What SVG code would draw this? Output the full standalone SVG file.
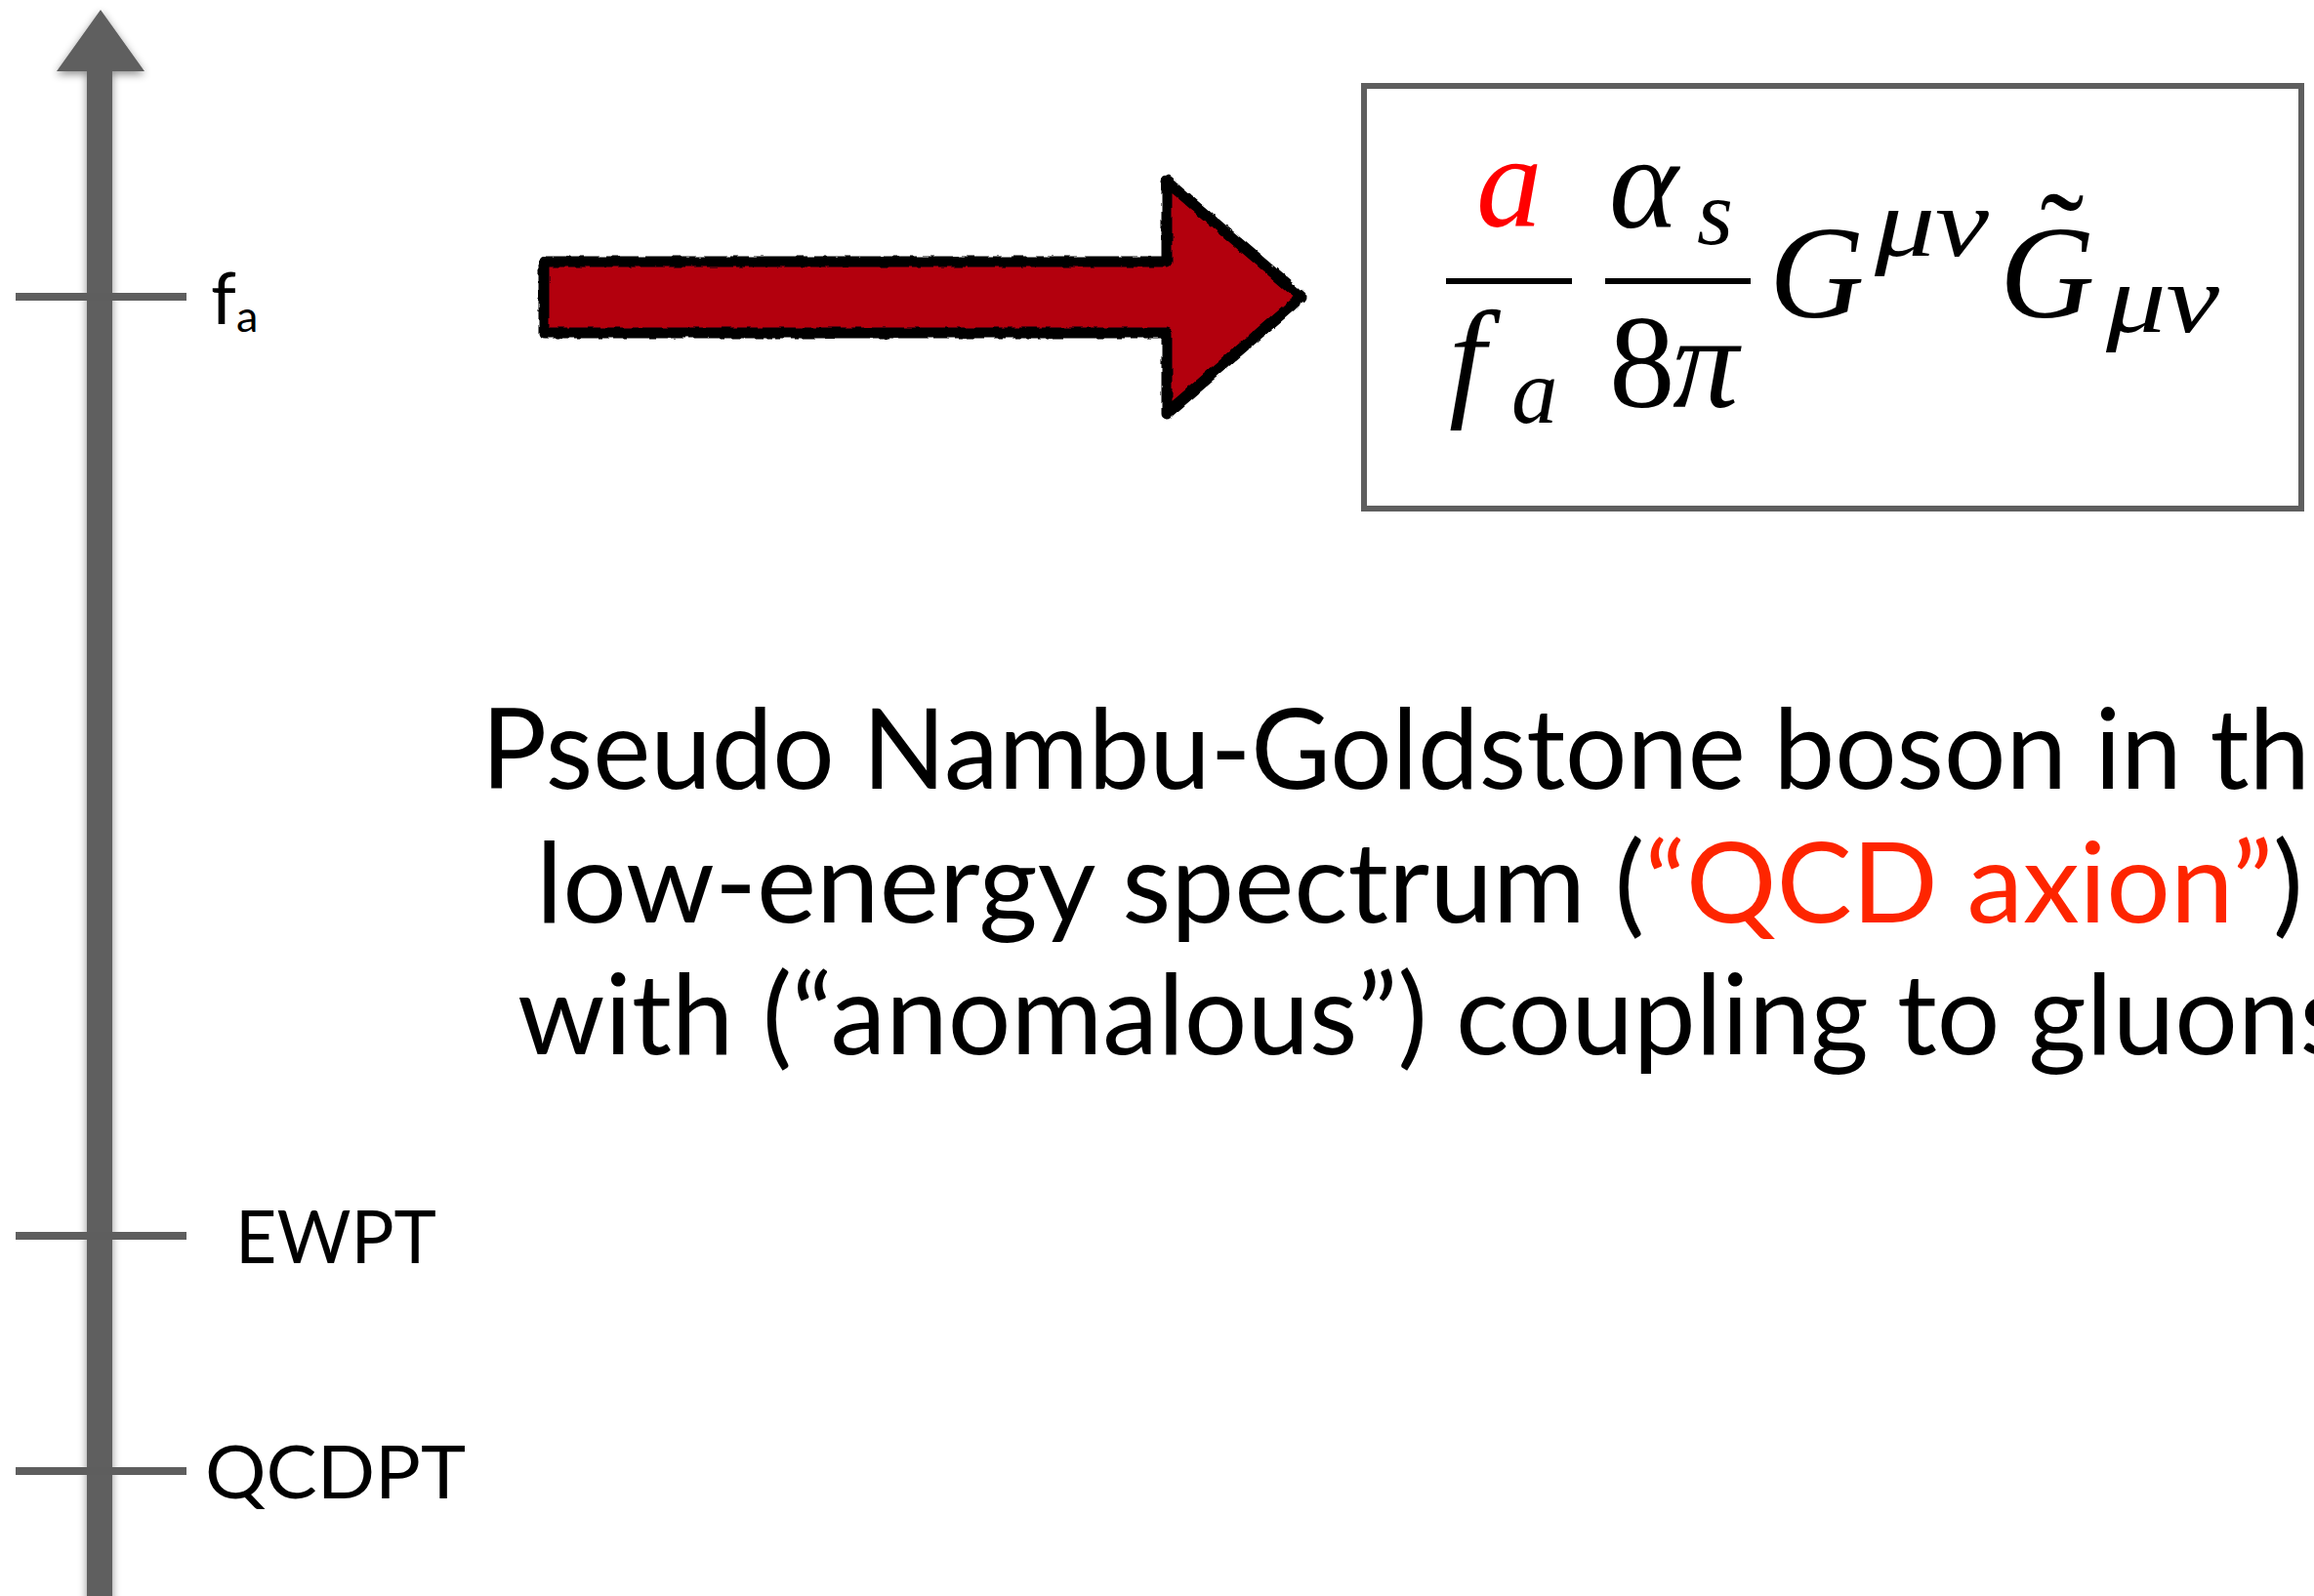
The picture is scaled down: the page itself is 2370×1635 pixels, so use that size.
<svg xmlns="http://www.w3.org/2000/svg" width="2370" height="1635" viewBox="0 0 2370 1635">
<style>
.ax{fill:#5e5e5e}
.tick{stroke:#5e5e5e;stroke-width:8}
.lbl{font-family:Lato,"Liberation Sans",sans-serif;fill:#000}
.body{font-family:Lato,"Liberation Sans",sans-serif;font-size:114px;fill:#000}
.m{font-family:"Liberation Serif","DejaVu Serif",serif;font-style:italic;fill:#000}
.mr{font-family:"Liberation Serif","DejaVu Serif",serif;fill:#000}
.bar{stroke:#000;stroke-width:6}
</style>
<defs>
<filter id="sh" x="-50%" y="-5%" width="200%" height="110%">
<feDropShadow dx="0" dy="3" stdDeviation="4" flood-color="#000" flood-opacity="0.45"/>
</filter>
<filter id="rough" x="-5%" y="-10%" width="110%" height="120%">
<feTurbulence type="fractalNoise" baseFrequency="0.08" numOctaves="2" seed="3" result="n"/>
<feDisplacementMap in="SourceGraphic" in2="n" scale="5" xChannelSelector="R" yChannelSelector="G"/>
</filter>
</defs>
<g id="axis" filter="url(#sh)">
<rect class="ax" x="89" y="70" width="26" height="1570"/>
<polygon class="ax" points="103,10 148,73 58,73"/>
</g>
<g id="tick-fa">
<line class="tick" x1="16" y1="304" x2="191" y2="304"/>
<text class="lbl" x="216" y="332" font-size="74">f<tspan font-size="45" dy="8">a</tspan></text>
</g>
<g id="tick-ewpt">
<line class="tick" x1="16" y1="1266" x2="191" y2="1266"/>
<text class="lbl" x="241" y="1294" font-size="75" textLength="206" lengthAdjust="spacingAndGlyphs">EWPT</text>
</g>
<g id="tick-qcdpt">
<line class="tick" x1="16" y1="1507" x2="191" y2="1507"/>
<text class="lbl" x="210" y="1535" font-size="75" textLength="267" lengthAdjust="spacingAndGlyphs">QCDPT</text>
</g>
<g id="connectors">
<polygon filter="url(#rough)" points="557,268 1195,268 1195,186 1333,304 1195,423 1195,341 557,341" fill="#b3000e" stroke="#000" stroke-width="11" stroke-linejoin="round"/>
</g>
<g id="formula">
<rect x="1397" y="88" width="960" height="433" fill="#fff" stroke="#5e5e5e" stroke-width="6"/>
<text class="m" x="1512" y="232" font-size="135" style="fill:#ff0000">a</text>
<line class="bar" x1="1481" y1="288" x2="1610" y2="288"/>
<text class="m" x="1484" y="412" font-size="135">f</text>
<text class="m" x="1548" y="433" font-size="95">a</text>
<text class="m" x="1648" y="233" font-size="135">α</text>
<text class="m" x="1738" y="250" font-size="95">s</text>
<line class="bar" x1="1644" y1="288" x2="1793" y2="288"/>
<text class="mr" x="1648" y="417" font-size="135">8</text>
<text class="m" x="1713" y="417" font-size="135">π</text>
<text class="m" x="1812" y="325" font-size="135">G</text>
<text class="m" x="1920" y="262" font-size="100" textLength="117" lengthAdjust="spacingAndGlyphs">μν</text>
<text class="m" x="2048" y="325" font-size="135">G</text>
<text class="mr" x="2112" y="290" font-size="135" text-anchor="middle">˜</text>
<text class="m" x="2157" y="340" font-size="100" textLength="116" lengthAdjust="spacingAndGlyphs">μν</text>
</g>
<g id="description">
<text class="body" x="493" y="808" textLength="1932" lengthAdjust="spacingAndGlyphs">Pseudo Nambu-Goldstone boson in the</text>
<text class="body" x="549" y="945" textLength="1810" lengthAdjust="spacingAndGlyphs">low-energy spectrum (<tspan fill="#fe2500">“QCD axion”</tspan>)</text>
<text class="body" x="530" y="1080" textLength="1875" lengthAdjust="spacingAndGlyphs">with (“anomalous”) coupling to gluons</text>
</g>
</svg>
